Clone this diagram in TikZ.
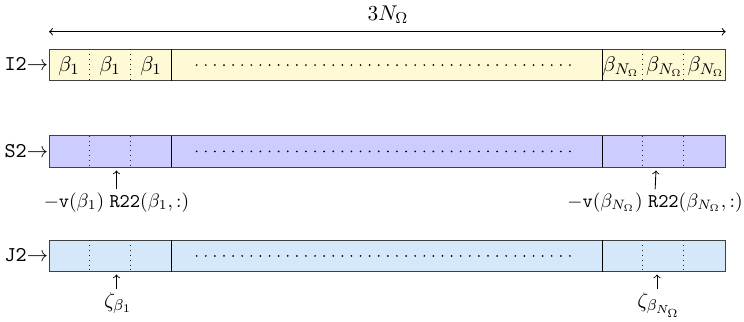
\documentclass[tikz,border=0pt]{standalone}
\definecolor{yelfill}{RGB}{255,250,214}
\definecolor{lavfill}{RGB}{204,204,255}
\definecolor{bluefill}{RGB}{212,232,250}
\begin{document}
\begin{tikzpicture}[x=0.513pt,y=-0.513pt,>=to,
  every node/.style={font=\fontsize{10.8}{13}\selectfont},
  rowbox/.style={draw=black!75, line width=0.5pt},
  blocksep/.style={draw=black, line width=0.6pt},
  cellsep/.style={draw=black!85, dotted, line width=0.5pt},
  middots/.style={line width=1pt, line cap=round, dash pattern=on 0pt off 4.67pt},
  rowlabel/.style={anchor=base east, inner sep=0pt},
  celltext/.style={anchor=base, inner sep=0pt},
  note/.style={anchor=north, inner sep=0pt},
  notetext/.style={font=\fontsize{10}{12}\selectfont},
  zetatext/.style={font=\fontsize{11.2}{13}\selectfont},
  pointer/.style={->, line width=0.45pt, shorten <=1.5pt}]
\useasboundingbox (0,0) rectangle (744,321);

% overall length
\coordinate (dimL) at (49,31.7);
\coordinate (dimR) at (725.7,31.7);
\draw[<->, line width=0.5pt] (dimL) -- (dimR);
\node (dim) at (388,15) {$3N_\Omega$};

% rows
\foreach \nm/\yt/\col in {I2/49.3/yelfill,S2/135.7/lavfill,J2/240.2/bluefill}{
  \pgfmathsetmacro\yb{\yt+31.5}
  \pgfmathsetmacro\ym{\yt+15.75}
  \pgfmathsetmacro\ybase{\yt+21.5}
  \filldraw[rowbox, fill=\col] (49,\yt) coordinate (\nm-tl) rectangle (725.7,\yb) coordinate (\nm-br);
  \draw[blocksep] (171.7,\yt) -- (171.7,\yb);
  \draw[blocksep] (602.3,\yt) -- (602.3,\yb);
  \foreach \x in {89.5,130.5,642.7,683.5} \draw[cellsep] (\x,\yt) -- (\x,\yb);
  \draw[middots] (196.7,\ym) -- (577,\ym);
  \node[rowlabel] (\nm-lab) at (48.5,\ybase) {\texttt{\nm}$\rightarrow$};
}

% cell contents of I2
\node[celltext] (b1) at (69,71) {$\beta_1$};
\node[celltext] (b2) at (110,71) {$\beta_1$};
\node[celltext] (b3) at (151,71) {$\beta_1$};
\node[celltext] (bn1) at (621,71) {$\beta_{N_\Omega}$};
\node[celltext] (bn2) at (664.5,71) {$\beta_{N_\Omega}$};
\node[celltext] (bn3) at (706,71) {$\beta_{N_\Omega}$};

% S2 notes
\coordinate (s2tipA) at (116.5,170.5);
\coordinate (s2tipB) at (656,170.5);
\node[note, notetext] (s2noteA) at (116.5,192) {$-\texttt{v}(\beta_1)\;\texttt{R22}(\beta_1,:)$};
\node[note, notetext] (s2noteB) at (655,192) {$-\texttt{v}(\beta_{N_\Omega})\;\texttt{R22}(\beta_{N_\Omega},:)$};
\draw[pointer] (s2noteA.north) -- (s2tipA);
\draw[pointer] (s2noteB.north) -- (s2tipB);

% J2 notes
\coordinate (j2tipA) at (116.5,274.5);
\coordinate (j2tipB) at (657,274.5);
\node[note, zetatext] (j2noteA) at (118,292) {$\zeta_{\beta_1}$};
\node[note, zetatext] (j2noteB) at (659,292) {$\zeta_{\beta_{N_\Omega}}$};
\draw[pointer] (j2noteA.north -| j2tipA) -- (j2tipA);
\draw[pointer] (j2noteB.north -| j2tipB) -- (j2tipB);
\end{tikzpicture}
\end{document}
